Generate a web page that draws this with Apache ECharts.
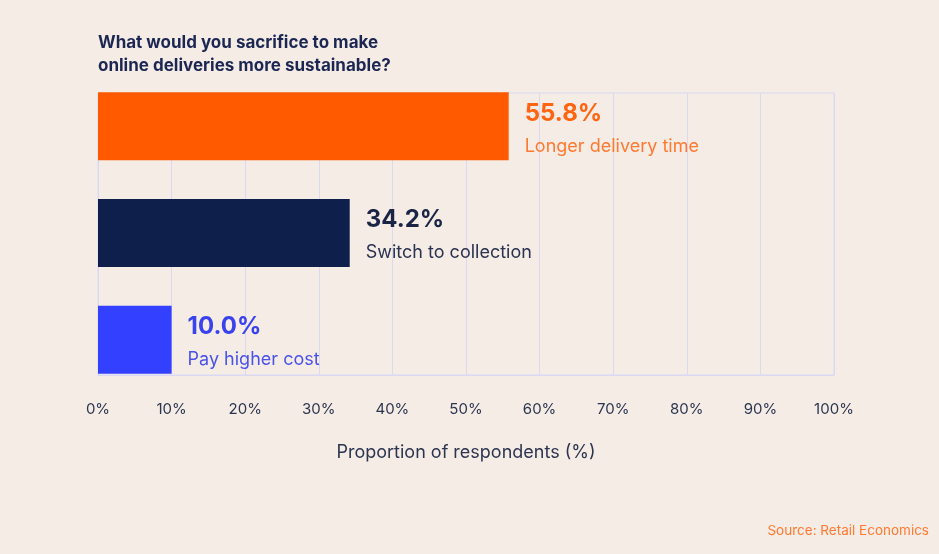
<!DOCTYPE html>
<html>
<head>
<meta charset="utf-8">
<script src="https://cdn.jsdelivr.net/npm/echarts@6/dist/echarts.min.js"></script>
<style>
html,body{margin:0;padding:0;background:#f5ece6;}
#chart{width:939px;height:554px;}
</style>
</head>
<body>
<div id="chart"></div>
<script>
const categories = ['Longer delivery time', 'Switch to collection', 'Pay higher cost'];
const values = [55.8, 34.2, 10.0];
const barColors = ['#ff5a00', '#0d1f4a', '#3340ff'];
const valueColors = ['#ff6410', '#1a2545', '#3a42ee'];
const nameColors = ['#ff7a30', '#2a3250', '#4a52ea'];
const tickValues = [0, 10, 20, 30, 40, 50, 60, 70, 80, 90, 100];

const FONT = 'Inter, "Noto Sans", sans-serif';
const grid = '#d9d9f4';

const data = values.map((v, i) => ({
  value: v,
  itemStyle: { color: barColors[i] },
  label: {
    formatter: '{v|' + v.toFixed(1) + '%}\n{n|' + categories[i] + '}',
    rich: {
      v: { fontSize: 24, fontWeight: 700, color: valueColors[i], fontFamily: FONT, lineHeight: 34 },
      n: { fontSize: 18, fontWeight: 400, color: nameColors[i], fontFamily: FONT, lineHeight: 32 }
    }
  }
}));

const chart = echarts.init(document.getElementById('chart'));
chart.setOption({
  backgroundColor: '#f5ece6',
  animation: false,
  title: [{
    text: 'What would you sacrifice to make\nonline deliveries more sustainable?',
    left: 98, top: 31, padding: 0,
    textStyle: { fontFamily: FONT, fontSize: 17, fontWeight: 700, color: '#1b2752', lineHeight: 23 }
  }, {
    text: 'Source: Retail Economics',
    right: 10, top: 524, padding: 0,
    textStyle: { fontFamily: FONT, fontSize: 13.5, fontWeight: 400, color: '#ff7a30' }
  }],
  grid: [
    { left: 98, right: 105, top: 93, bottom: 179, show: true, borderColor: grid, borderWidth: 1, backgroundColor: 'transparent' },
    { left: 98, right: 105, top: 73, bottom: 161 }
  ],
  xAxis: [{
    gridIndex: 0, type: 'value', min: 0, max: 100, interval: 10,
    axisLine: { show: true, lineStyle: { color: grid } },
    axisTick: { show: false },
    splitLine: { show: true, lineStyle: { color: grid, width: 1 } },
    axisLabel: { formatter: '{value}%', fontFamily: FONT, fontSize: 15, color: '#2c3550', margin: 27 },
    name: 'Proportion of respondents (%)', nameLocation: 'middle', nameGap: 69,
    nameTextStyle: { fontFamily: FONT, fontSize: 18, color: '#2c3550' }
  }, {
    gridIndex: 1, type: 'value', min: 0, max: 100, show: false
  }],
  yAxis: [{
    gridIndex: 0, type: 'category', data: categories, show: false
  }, {
    gridIndex: 1, type: 'category', data: categories, inverse: true, show: false
  }],
  series: [{
    type: 'bar', xAxisIndex: 1, yAxisIndex: 1, barWidth: 68, data: data,
    label: { show: true, position: 'right', distance: 16, align: 'left', offset: [0, 3] }
  }]
});
</script>
</body>
</html>
